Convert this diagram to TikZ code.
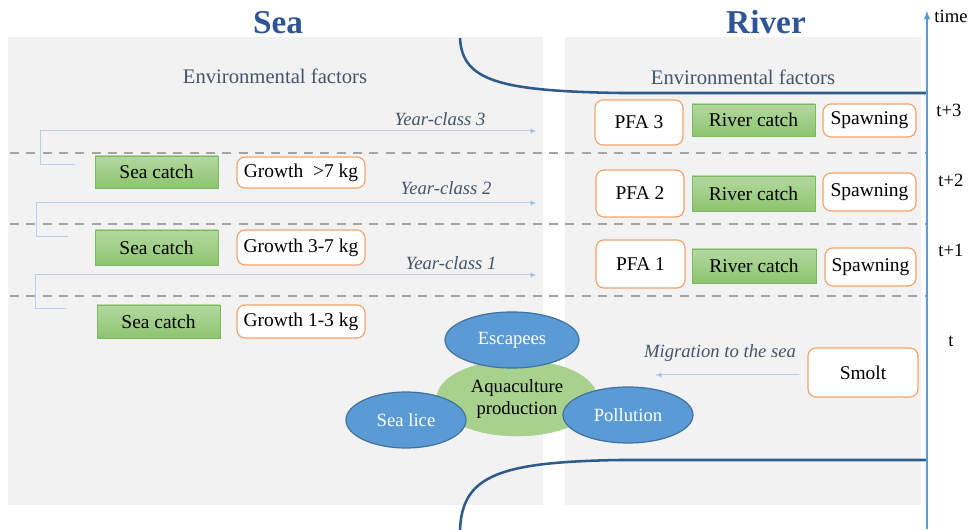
\documentclass[tikz,border=0pt]{standalone}
\usepackage{fontspec}
\setmainfont{Liberation Serif}
\usetikzlibrary{arrows.meta,shapes.geometric}
\definecolor{panel}{HTML}{F2F2F2}
\definecolor{titleblue}{HTML}{2F5597}
\definecolor{curveblue}{HTML}{2E5A8C}
\definecolor{axisblue}{HTML}{5B9BD5}
\definecolor{thinblue}{HTML}{B4D0EC}
\definecolor{tipblue}{HTML}{5B9BD5}
\definecolor{envgray}{HTML}{44546A}
\definecolor{dashgray}{HTML}{A3A3A3}
\definecolor{greentop}{HTML}{B4D8A0}
\definecolor{greenbot}{HTML}{8CC56E}
\definecolor{greenedge}{HTML}{7DB85E}
\definecolor{orangeedge}{HTML}{F4A46C}
\definecolor{ellblue}{HTML}{5B9BD5}
\definecolor{elledge}{HTML}{41719C}
\definecolor{aquagreen}{HTML}{A9D18E}
\begin{document}
\begin{tikzpicture}[x=0.75pt,y=-0.75pt,
  every node/.style={font=\fontsize{14}{16}\selectfont, inner sep=0pt},
  boxfont/.style={font=\fontsize{14.6}{17}\selectfont},
  catchbox/.style={boxfont, draw=greenedge, line width=0.6pt, top color=greentop, bottom color=greenbot, minimum width=92.25pt},
  orbox/.style={boxfont, draw=orangeedge, line width=0.9pt, fill=white, rounded corners=6pt},
  ell/.style={ellipse, draw=elledge, line width=0.9pt, fill=ellblue, text=white},
  yc/.style={font=\fontsize{14}{16}\selectfont\itshape, text=envgray},
  thinarrow/.style={draw=thinblue, line width=0.75pt, -{Latex[length=5pt,width=4pt,fill=tipblue]}},
  sep/.style={draw=dashgray, line width=2pt, dash pattern=on 6.75pt off 5.5pt},
  curve/.style={draw=curveblue, line width=1.9pt},
  tlab/.style={font=\fontsize{14}{16}\selectfont},
]
\useasboundingbox (0,0) rectangle (971,530);
% panels
\fill[panel] (8,37) rectangle (543,505);
\fill[panel] (565,37) rectangle (921,505);
% titles
\node[font=\fontsize{25}{28}\selectfont\bfseries, text=titleblue] (sea) at (278,23) {Sea};
\node[font=\fontsize{25}{28}\selectfont\bfseries, text=titleblue] (river) at (766,22) {River};
\node[font=\fontsize{15.5}{18}\selectfont, text=envgray] (envL) at (275,76) {Environmental factors};
\node[font=\fontsize{15.5}{18}\selectfont, text=envgray] (envR) at (743,77) {Environmental factors};
% dashed separators
\coordinate (d1a) at (10,153); \coordinate (d1b) at (927,153);
\coordinate (d2a) at (10,224); \coordinate (d2b) at (927,224);
\coordinate (d3a) at (10,296); \coordinate (d3b) at (927,296);
\draw[sep] (d1a) -- (d1b);
\draw[sep] (d2a) -- (d2b);
\draw[sep] (d3a) -- (d3b);
% year-class arrows
\coordinate (y3s) at (75,165); \coordinate (y3c) at (40,165); \coordinate (y3e) at (537,131);
\coordinate (y2s) at (68,237); \coordinate (y2c) at (36,237); \coordinate (y2e) at (537,203);
\coordinate (y1s) at (66,309); \coordinate (y1c) at (35,309); \coordinate (y1e) at (537,275);
\draw[thinarrow] (y3s) -- (y3c) |- (y3e);
\draw[thinarrow] (y2s) -- (y2c) |- (y2e);
\draw[thinarrow] (y1s) -- (y1c) |- (y1e);
\node[yc] (yc3) at (440,119) {Year-class 3};
\node[yc] (yc2) at (446,188) {Year-class 2};
\node[yc] (yc1) at (451,263) {Year-class 1};
% sea boxes
\node[catchbox, minimum height=24pt] (sc3) at (156.5,172) {Sea catch};
\node[orbox, minimum width=96pt, minimum height=23.25pt] (g3) at (301,172.5) {Growth \ >7 kg};
\node[catchbox, minimum height=26.25pt] (sc2) at (156.5,247.5) {Sea catch};
\node[orbox, minimum width=96pt, minimum height=26.25pt] (g2) at (301,247.5) {Growth 3-7 kg};
\node[catchbox, minimum height=24.75pt] (sc1) at (158.5,321.5) {Sea catch};
\node[orbox, minimum width=96pt, minimum height=24.75pt] (g1) at (301,321.5) {Growth 1-3 kg};
% river boxes
\node[orbox, minimum width=66pt, minimum height=33.75pt] (pfa3) at (639,122.5) {PFA 3};
\node[catchbox, minimum height=24pt] (rc3) at (753.5,120) {River catch};
\node[orbox, minimum width=69.75pt, minimum height=24.75pt] (sp3) at (869.5,120.5) {Spawning};
\node[orbox, minimum width=66pt, minimum height=35.25pt] (pfa2) at (640,193.5) {PFA 2};
\node[catchbox, minimum height=26.25pt] (rc2) at (753.5,193.5) {River catch};
\node[orbox, minimum width=69.75pt, minimum height=28.5pt] (sp2) at (869.5,192) {Spawning};
\node[orbox, minimum width=66.75pt, minimum height=36pt] (pfa1) at (640.5,264) {PFA 1};
\node[catchbox, minimum width=93pt, minimum height=25.5pt] (rc1) at (754,266) {River catch};
\node[orbox, minimum width=68.25pt, minimum height=28.5pt] (sp1) at (870.5,267) {Spawning};
% smolt and migration
\node[orbox, minimum width=82.5pt, minimum height=36.75pt] (smolt) at (863,372.5) {Smolt};
\coordinate (migend) at (655,375);
\draw[thinarrow, shorten <=6pt] (smolt.west |- migend) -- (migend);
\node[yc] (mig) at (720,353) {Migration to the sea};
% aquaculture cluster
\node[ellipse, draw=aquagreen, fill=aquagreen, minimum width=120pt, minimum height=57pt] (aqua) at (517,398) {};
\node[ell, minimum width=100.5pt, minimum height=42pt] (esc) at (512,340) {Escapees};
\node[ell, minimum width=90pt, minimum height=42pt] (lice) at (406,420) {Sea lice};
\node[ell, minimum width=97.5pt, minimum height=42pt] (poll) at (628,415) {Pollution};
\node[align=center, font=\fontsize{14}{16.5}\selectfont] (aqualab) at (517,399) {Aquaculture\\production};
% curves
\coordinate (tc0) at (460,38); \coordinate (tc1) at (620,93); \coordinate (tc2) at (927,93);
\draw[curve] (tc0) .. controls (462,81) and (500,91) .. (tc1) -- (tc2);
\coordinate (bc0) at (927,460); \coordinate (bc1) at (620,460); \coordinate (bc2) at (460,530);
\draw[curve] (bc0) -- (bc1) .. controls (500,462) and (462,475) .. (bc2);
% time axis
\coordinate (ax0) at (927,529); \coordinate (ax1) at (927,10);
\draw[draw=axisblue, line width=1.5pt, -{Latex[length=7pt,width=5pt]}] (ax0) -- (ax1);
\node[tlab] (time) at (951,16) {time};
\node[tlab] (t3) at (949,110) {t+3};
\node[tlab] (t2) at (951,180) {t+2};
\node[tlab] (t1) at (951,250) {t+1};
\node[tlab] (t0) at (951,341) {t};
\end{tikzpicture}
\end{document}
